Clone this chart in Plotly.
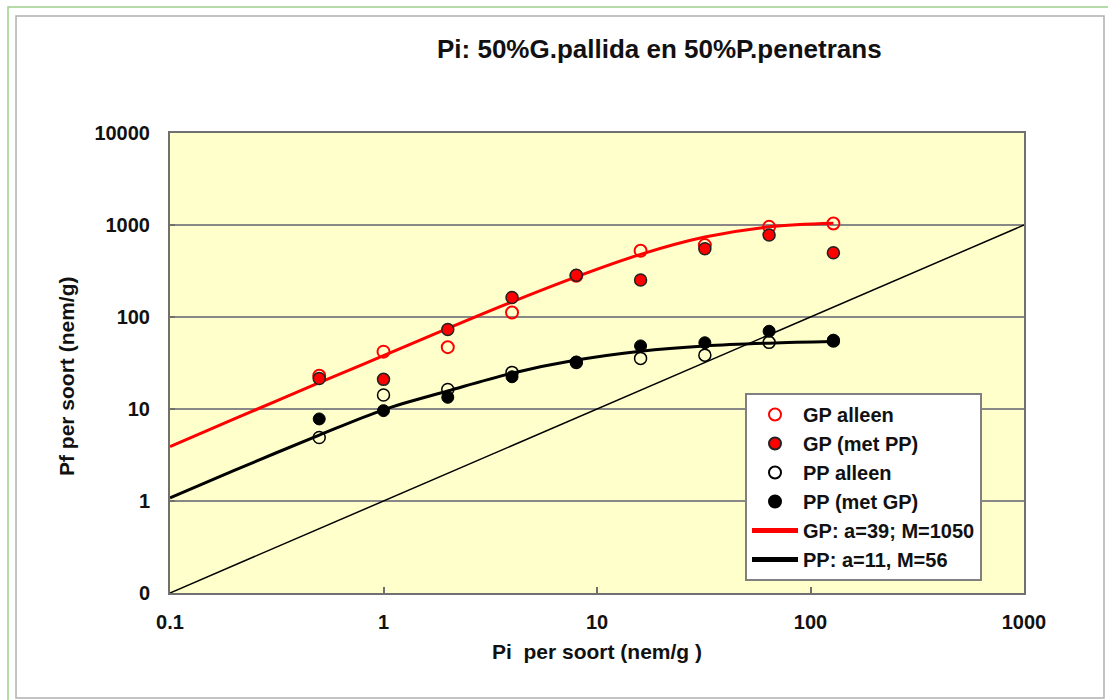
import plotly.graph_objects as go

# Initial population density per species (Pi, nem/g)
pi_levels = [0.5, 1, 2, 4, 8, 16, 32, 64, 128]

# Final population density (Pf, nem/g)
gp_alleen = [23, 42, 47, 112, 280, 525, 605, 955, 1040]
gp_met_pp = [21.5, 21, 73, 163, 284, 252, 552, 780, 500]
pp_alleen = [4.9, 14.2, 16.3, 25, 32, 35.5, 38.5, 53, 55]
pp_met_gp = [7.8, 9.6, 13.4, 22.4, 32.4, 48.5, 52.5, 70, 56]

# Fitted curves
curve_pi = [0.1, 0.2, 0.5, 1, 2, 4, 8, 16, 32, 64, 128]
gp_fit = [3.9, 7.8, 19.3, 38, 75, 146, 273, 480, 740, 955, 1045]
pp_fit = [1.08, 2.15, 5.2, 9.8, 15.7, 24.5, 34, 42.5, 48.5, 52, 54]

# Equilibrium line Pf = Pi
diag_x = [0.1, 1000]
diag_y = [0.1, 1000]

x_ticks = [0.1, 1, 10, 100, 1000]
x_ticktext = ["0.1", "1", "10", "100", "1000"]
y_ticks = [0.1, 1, 10, 100, 1000, 10000]
y_ticktext = ["0", "1", "10", "100", "1000", "10000"]

FONT = "Arial, 'Liberation Sans', sans-serif"
RED = "#ff0000"
INK = "#111111"


def bold(s):
    return "<b>" + s + "</b>"


fig = go.Figure()

fig.add_trace(go.Scatter(x=diag_x, y=diag_y, mode="lines",
                         line=dict(color="black", width=1.5),
                         showlegend=False, hoverinfo="skip"))

fig.add_trace(go.Scatter(x=curve_pi, y=gp_fit, mode="lines", name=bold("GP: a=39; M=1050"),
                         line=dict(color=RED, width=3, shape="spline"),
                         legendrank=5, legendgroup="g5"))
fig.add_trace(go.Scatter(x=curve_pi, y=pp_fit, mode="lines", name=bold("PP: a=11, M=56"),
                         line=dict(color="black", width=3, shape="spline"),
                         legendrank=6, legendgroup="g6"))

fig.add_trace(go.Scatter(x=pi_levels, y=pp_alleen, mode="markers", name=bold("PP alleen"),
                         marker=dict(symbol="circle-open", size=12, color="black",
                                     line=dict(width=1.5)),
                         legendrank=3, legendgroup="g3"))
fig.add_trace(go.Scatter(x=pi_levels, y=pp_met_gp, mode="markers", name=bold("PP (met GP)"),
                         marker=dict(symbol="circle", size=12, color="black",
                                     line=dict(width=1, color="black")),
                         legendrank=4, legendgroup="g4"))
fig.add_trace(go.Scatter(x=pi_levels, y=gp_alleen, mode="markers", name=bold("GP alleen"),
                         marker=dict(symbol="circle-open", size=12, color=RED,
                                     line=dict(width=2)),
                         legendrank=1, legendgroup="g1"))
fig.add_trace(go.Scatter(x=pi_levels, y=gp_met_pp, mode="markers", name=bold("GP (met PP)"),
                         marker=dict(symbol="circle", size=12, color=RED,
                                     line=dict(width=1.5, color="#222222")),
                         legendrank=2, legendgroup="g2"))

# plot area in pixels: x 170..1024, y 133..593
L, R, T, B = 170, 1024, 133, 593


def px_x(p):
    return (p - L) / (R - L)


def px_y(p):
    return (B - p) / (B - T)


shapes = [
    dict(type="rect", xref="paper", yref="paper",
         x0=px_x(8), x1=px_x(1112), y0=px_y(704), y1=px_y(7),
         line=dict(color="#9fd08f", width=1.5), fillcolor="rgba(0,0,0,0)", layer="below"),
    dict(type="rect", xref="paper", yref="paper",
         x0=px_x(16), x1=px_x(1104), y0=px_y(698), y1=px_y(16),
         line=dict(color="#b0b0b0", width=1.5), fillcolor="rgba(0,0,0,0)", layer="below"),
]

annotations = [
    dict(text=bold("Pi: 50%G.pallida en 50%P.penetrans"),
         xref="paper", yref="paper", x=px_x(659), y=px_y(49),
         xanchor="center", yanchor="middle", showarrow=False,
         font=dict(size=26, family=FONT, color=INK)),
    dict(text=bold("Pf per soort (nem/g)"),
         xref="paper", yref="paper", x=px_x(66), y=px_y(376),
         xanchor="center", yanchor="middle", showarrow=False, textangle=-90,
         font=dict(size=21, family=FONT, color=INK)),
]

fig.update_layout(
    width=1108, height=700,
    margin=dict(l=L, r=1108 - R, t=T, b=700 - B, pad=0),
    paper_bgcolor="white",
    plot_bgcolor="#ffffcc",
    font=dict(family=FONT, color=INK),
    shapes=shapes,
    annotations=annotations,
    xaxis=dict(type="log", range=[-1, 3],
               tickvals=x_ticks, ticktext=[bold(t) for t in x_ticktext],
               ticks="inside", ticklen=6, tickcolor="#707070", tickwidth=1.5,
               ticklabelstandoff=10,
               tickfont=dict(size=20, family=FONT, color=INK),
               showgrid=False, zeroline=False,
               showline=True, linecolor="#707070", linewidth=2, mirror=True,
               title=dict(text=bold("Pi  per soort (nem/g )"), standoff=12,
                          font=dict(size=21, family=FONT, color=INK))),
    yaxis=dict(type="log", range=[-1, 4],
               tickvals=y_ticks, ticktext=[bold(t) for t in y_ticktext],
               ticks="inside", ticklen=5, tickcolor="#707070", tickwidth=1.5,
               ticklabelstandoff=14,
               tickfont=dict(size=20, family=FONT, color=INK),
               showgrid=True, gridcolor="#888888", gridwidth=1.8,
               zeroline=False,
               showline=True, linecolor="#707070", linewidth=2, mirror=True),
    legend=dict(x=px_x(745), y=px_y(393), xanchor="left", yanchor="top",
                bgcolor="white", bordercolor="#808080", borderwidth=2,
                font=dict(size=20, family=FONT, color=INK),
                itemwidth=46, tracegroupgap=0, traceorder="grouped",
                itemsizing="constant"),
)

fig.write_html("out.html")
